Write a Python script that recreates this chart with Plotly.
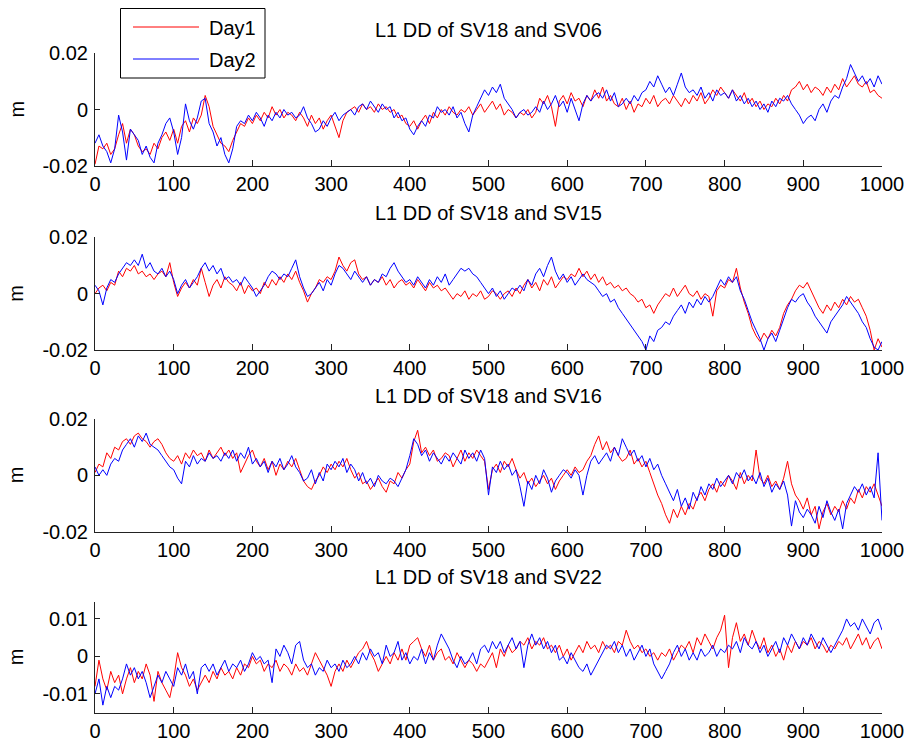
import plotly.graph_objects as go

# sample index (every 5th epoch)
T = list(range(0, 1001, 5))

# values in millimetres (converted to metres below)
SV06_DAY1 = [
    -19.5, -13, -14, -12, -16, -14, -9, -5, -12, -7, -9, -13, -15, -14, -16, -12, -14, -10, -8, -11,
    -7, -12, -6, -4, -8, -3, -5, -2, 5, 1, -6, -9, -12, -13, -15, -11, -8, -5, -6, -3,
    -5, -2, -4, -1, -3, 1, -2, 0, -3, -1, -2, -4, -1, -3, -6, -2, -5, -3, -7, -4,
    -2, -6, -10, -4, -1, 0, 1, -1, 2, 0, 1, -1, 2, 0, 1, -1, 0, -3, -2, -5,
    -6, -4, -7, -4, -2, -5, -1, -3, 0, -2, 1, -1, -2, 0, -1, 1, -2, 0, 2, -1,
    1, 3, 0, 2, -2, 0, -1, -3, -1, -2, 0, -3, -1, 4, 2, 5, 1, -6, 3, 5,
    2, 6, 3, 4, 1, 5, 3, 7, 4, 8, 3, 5, 2, 1, 4, 0, 3, -1, 2, 1,
    4, 2, 5, 1, 3, 4, 2, 5, 3, 1, 4, 2, 5, 3, 6, 2, 4, 7, 5, 8,
    6, 4, 7, 5, 3, 6, 2, 4, 1, 3, 0, 2, 1, 4, 2, 5, 3, 7, 8, 10,
    7, 9, 6, 8, 7, 5, 8, 6, 9, 7, 11, 8, 10, 12, 9, 8, 10, 6, 7, 5,
    4]
SV06_DAY2 = [
    -12, -9, -13, -15, -19, -14, -2, -8, -18, -7, -9, -11, -16, -13, -17, -19, -12, -9, -5, -3,
    -8, -16, -10, 2, -4, -7, -3, 3, 4, -5, -8, -13, -10, -16, -19, -14, -6, -4, -5, -2,
    -4, -1, -3, -6, -2, -4, -1, -3, 0, -2, -1, -3, -2, 1, -3, -5, -8, -7, -4, -6,
    -3, -1, -4, -2, -1, 0, -2, 1, 2, 0, 3, 1, -1, 2, 0, 1, -3, -1, -4, -3,
    -7, -9, -6, -4, -6, -2, -3, 1, -1, 0, -2, 1, -3, -1, -5, -8, -2, 1, 4, 7,
    5, 8, 6, 9, 4, 2, 0, -3, -1, 0, -2, -1, 1, -1, 3, 0, 2, 5, 1, 3,
    -1, 4, 0, -4, 2, 5, 3, 5, 6, 4, 7, 3, 6, 1, 2, 4, 2, 5, 3, 6,
    7, 10, 8, 12, 9, 6, 8, 5, 9, 13, 8, 6, 7, 5, 8, 4, 6, 3, 7, 5,
    6, 4, 7, 3, 5, 2, 4, 1, 3, 0, 2, -1, 3, 1, 4, 3, 5, 2, 0, -2,
    -5, -3, -2, -4, 0, 2, -1, 3, 5, 4, 8, 11, 16, 13, 10, 12, 9, 11, 8, 12,
    9]
SV15_DAY1 = [
    0, 2, 3, 1, 4, 3, 8, 6, 9, 8, 10, 7, 8, 6, 7, 5, 7, 8, 6, 11,
    4, -1, 2, 4, 2, 5, 3, 9, 4, -1, 3, 5, 2, 6, 4, 3, 1, 4, 0, 3,
    1, 2, 0, 4, 2, 5, 3, 6, 4, 7, 5, 8, 4, 1, -3, 0, 2, 5, 4, 6,
    5, 8, 13, 10, 8, 11, 12, 7, 5, 6, 3, 5, 4, 6, 3, 5, 2, 4, 5, 3,
    4, 2, 5, 3, 1, 4, 2, 3, 1, 2, 0, -2, 0, -1, 1, -2, 0, -1, 1, -2,
    -1, 1, 0, -2, 0, 1, -1, 2, 0, 3, 5, 2, 4, 1, 5, 3, 6, 2, 4, 6,
    5, 7, 6, 9, 6, 8, 5, 7, 4, 6, 3, 4, 2, 3, 1, 2, 0, -1, -3, -2,
    -5, -4, -7, -4, -2, 0, -1, 2, -1, 1, 3, 0, -1, 1, -2, 0, -1, -8, 1, 3,
    2, 5, 4, 9, 2, -3, -7, -12, -15, -17, -14, -16, -13, -15, -12, -7, -4, -2, 1, 3,
    2, 4, 1, -2, -5, -7, -4, -6, -3, -5, -2, -4, -1, -3, -2, -5, -8, -13, -20, -16,
    -19]
SV15_DAY2 = [
    3, 1, -4, 2, 5, 4, 7, 9, 11, 10, 12, 10, 14, 9, 11, 8, 7, 9, 6, 8,
    5, 0, 3, 5, 2, 4, 6, 9, 11, 8, 10, 7, 9, 5, 6, 4, 5, 3, 6, 4,
    2, -1, 1, 3, 6, 8, 7, 5, 7, 6, 9, 12, 6, 2, -1, 0, 2, 4, 1, 5,
    3, 7, 10, 9, 7, 5, 8, 6, 4, 6, 3, 5, 4, 7, 6, 9, 11, 8, 6, 4,
    5, 3, 6, 4, 2, 5, 3, 6, 4, 7, 3, 5, 7, 9, 8, 9, 7, 6, 4, 2,
    0, 2, -1, 1, -2, 0, 2, 1, 3, 1, 5, 3, 7, 9, 6, 10, 13, 8, 5, 7,
    4, 6, 3, 5, 7, 5, 4, 3, 1, -1, 0, -3, -2, -5, -7, -9, -11, -13, -15, -17,
    -20, -15, -17, -13, -12, -10, -11, -8, -6, -4, -7, -3, -5, -2, -4, -1, -3, -1, 2, 5,
    3, 6, 4, 6, 1, -2, -6, -10, -13, -16, -20, -16, -14, -17, -13, -9, -5, -2, -3, -1,
    0, -3, -5, -8, -10, -12, -14, -10, -8, -6, -4, -1, -3, -5, -7, -10, -12, -16, -19, -20,
    -17]
SV16_DAY1 = [
    1, 4, 3, 8, 6, 10, 9, 12, 13, 11, 14, 15, 13, 12, 10, 12, 13, 11, 8, 6,
    5, 7, 4, 8, 6, 9, 7, 8, 5, 9, 6, 8, 10, 7, 9, 6, 8, 1, 4, 7,
    9, 5, 3, 6, 2, 5, 0, 4, 2, 5, 3, 6, 2, -2, -4, -5, -2, 0, 3, 1,
    4, 2, 5, 3, 6, 2, -1, 1, -3, -2, -5, -3, -1, -4, -6, -2, -3, 1, -1, 2,
    4, 12, 16, 8, 10, 7, 9, 5, 6, 8, 7, 3, 6, 9, 5, 8, 6, 9, 7, 5,
    -5, 2, 4, 1, 5, 3, 6, 2, -1, 1, -3, -1, -4, -2, 0, -3, -1, -5, -2, 0,
    2, 0, 3, 1, 2, 5, 7, 11, 14, 9, 12, 8, 10, 7, 5, 6, 9, 4, 6, 3,
    5, 1, -3, -7, -10, -14, -17, -12, -15, -11, -14, -10, -12, -8, -6, -9, -5, -3, -6, -2,
    -4, 0, -2, -5, 1, -3, 0, -2, 9, -1, -3, 0, -4, -2, -5, -1, 5, -3, -7, -9,
    -12, -8, -14, -11, -19, -13, -10, -14, -11, -13, -9, -12, -8, -10, -5, -8, -4, -6, -3, -7,
    -11]
SV16_DAY2 = [
    3, 0, 2, 0, 4, 6, 5, 9, 11, 13, 10, 14, 12, 15, 11, 10, 9, 7, 5, 3,
    2, -1, -3, 5, 3, 7, 4, 6, 5, 8, 6, 7, 5, 8, 6, 9, 5, 8, 6, 10,
    4, 6, 3, 5, 1, 5, 3, 6, 2, 4, 7, 3, 1, -2, -1, 2, -3, 1, -2, 4,
    2, 5, 3, 6, 1, 4, 2, -2, 1, -3, -1, -4, 0, -2, -3, -1, -2, -4, -1, 2,
    7, 13, 11, 7, 9, 5, 8, 6, 4, 7, 5, 8, 6, 4, 9, 6, 8, 5, 9, 6,
    -7, 3, 1, 5, 2, 4, 0, 2, -4, -11, -2, -5, 0, -3, 2, -1, -6, -2, 0, 2,
    1, -1, 2, 0, -7, 0, 5, 7, 4, 6, 8, 5, 10, 7, 13, 10, 7, 9, 5, 7,
    3, 6, 2, 4, 0, -3, -6, -9, -5, -11, -8, -12, -6, -9, -4, -7, -3, -5, -1, -4,
    -2, 0, -3, 1, -1, 2, -2, 0, -3, 1, -4, -1, -6, -3, -5, -2, -7, -18, -9, -13,
    -15, -12, -14, -17, -11, -15, -9, -13, -16, -12, -19, -10, -7, -4, -6, -3, -7, -4, -8, 8,
    -16]
SV22_DAY1 = [
    -8, -1, -6, -9, -4, -7, -5, -10, -6, -3, -7, -4, -6, -2, -5, -12, -4, -7, -9, -11,
    -6, 1, -3, -5, -8, -6, -9, -7, -5, -7, -4, -6, -3, -5, -4, -6, -3, -5, -2, -3,
    0, -2, -1, -4, -2, -3, -1, -4, -2, -3, -5, -2, -4, -3, -5, -2, 1, -1, -3, -5,
    -8, -4, -2, -4, -1, -3, -1, 1, 2, 4, 1, -1, -4, -2, 0, -2, 1, -1, 2, -1,
    3, 4, 5, 2, 0, 3, -1, 1, 2, -1, 0, -2, 1, -1, -3, -1, -2, -4, -2, -3,
    -1, 1, -3, 2, 0, 3, 1, 2, 4, 3, 5, 2, 4, 3, 5, 2, 3, 1, 3, 0,
    2, -1, 1, 3, 1, 4, 2, 3, 1, 4, 2, 3, 1, 4, 3, 7, 4, 2, 3, 1,
    2, 0, 1, -1, 1, 0, 2, -1, 1, 3, 2, 4, 1, 5, 3, 6, 4, 2, 5, 7,
    11, -3, 5, 9, 4, 6, 3, 7, 4, 2, 5, 1, 3, 0, 2, -1, 3, 1, 4, 2,
    4, 3, 5, 2, 4, 3, 1, 3, 2, 4, 3, 5, 2, 4, 6, 3, 5, 2, 4, 5,
    2]
SV22_DAY2 = [
    -10, -6, -13, -8, -11, -8, -9, -6, -2, -5, -3, -6, -4, -7, -11, -8, -5, -7, -4, -6,
    -8, -3, -5, -2, -6, -4, -10, -3, -2, -4, -2, -5, -3, -1, -4, -2, -3, -1, -4, -2,
    1, -1, 0, -2, -1, -7, 2, 0, 3, 1, -2, 3, 4, -1, -3, -2, -5, -3, -4, -1,
    -3, -2, -4, -1, -3, -2, 0, -2, 1, -1, 2, 0, 1, -2, 3, 0, 1, 4, -1, 1,
    -2, 0, -1, 2, -2, 1, -1, 3, 6, 4, 2, -1, -3, 0, -2, -1, 1, -2, 2, 3,
    1, 4, 2, 4, 1, 3, 5, 2, 4, -3, 3, 6, 3, 5, 2, 4, 1, 3, -1, 0,
    -2, 1, -1, -3, -4, -2, -5, -3, -1, 1, 3, 2, 4, 1, 3, 0, 2, -1, 1, 3,
    0, 2, -2, -4, -6, -4, -2, 1, 3, 0, 2, -1, 1, -1, 2, 0, 1, 3, 0, 2,
    1, 3, 2, 4, 1, 5, 3, 2, 4, 1, 3, 0, 2, 4, 1, 5, 3, 6, 4, 2,
    5, 3, 6, 4, 2, 5, 3, 1, 3, 5, 7, 10, 8, 9, 7, 10, 8, 6, 9, 10,
    7]

PANELS = [
    ("L1 DD of SV18 and SV06", SV06_DAY1, SV06_DAY2),
    ("L1 DD of SV18 and SV15", SV15_DAY1, SV15_DAY2),
    ("L1 DD of SV18 and SV16", SV16_DAY1, SV16_DAY2),
    ("L1 DD of SV18 and SV22", SV22_DAY1, SV22_DAY2),
]
SERIES_NAMES = ["Day1", "Day2"]
SERIES_COLORS = ["#FF0000", "#0000FF"]
X_TICKS = [0, 100, 200, 300, 400, 500, 600, 700, 800, 900, 1000]
Y_TICKS_BIG = [-0.02, 0, 0.02]
Y_TICKTEXT_BIG = ["-0.02", "0", "0.02"]
Y_TICKS_SMALL = [-0.01, 0, 0.01]
Y_TICKTEXT_SMALL = ["-0.01", "0", "0.01"]
Y_RANGES = [[-0.02, 0.02], [-0.02, 0.02], [-0.02, 0.02], [-0.0151, 0.0146]]

W, H = 911, 742
FONT = "Liberation Sans, Arial, sans-serif"
FS = 20

def px(x):
    return x / W

def py(y):
    return 1 - y / H

# pixel boxes of each axes (top, bottom)
BOXES = [(53.3, 165.7), (237.3, 350.0), (419.0, 531.7), (601.7, 713.0)]
TITLE_Y = [29.5, 212.5, 396.0, 576.5]
X0, X1 = 95.0, 882.0

fig = go.Figure()
annotations = []
for i, (title, d1, d2) in enumerate(PANELS):
    n = i + 1
    xa = "x" if n == 1 else f"x{n}"
    ya = "y" if n == 1 else f"y{n}"
    for vals, name, col in ((d1, SERIES_NAMES[0], SERIES_COLORS[0]), (d2, SERIES_NAMES[1], SERIES_COLORS[1])):
        fig.add_trace(go.Scatter(
            x=T, y=[v / 1000.0 for v in vals], mode="lines", name=name,
            line=dict(color=col, width=1), xaxis=xa, yaxis=ya, showlegend=False,
        ))
    top, bot = BOXES[i]
    small = (i == 3)
    axx = dict(domain=[px(X0), px(X1)], range=[0, 1000], tickvals=X_TICKS,
               ticks="inside", ticklen=6, tickcolor="#222", showline=True, linecolor="#222",
               linewidth=1, showgrid=False, zeroline=False, anchor=ya, automargin=False,
               tickfont=dict(family=FONT, size=FS, color="black"), ticklabelstandoff=0)
    axy = dict(domain=[py(bot), py(top)], range=Y_RANGES[i],
               tickvals=Y_TICKS_SMALL if small else Y_TICKS_BIG,
               ticktext=Y_TICKTEXT_SMALL if small else Y_TICKTEXT_BIG,
               ticks="inside", ticklen=5, tickcolor="#222", showline=True, linecolor="#222",
               linewidth=1, showgrid=False, zeroline=False, anchor=xa, automargin=False,
               tickfont=dict(family=FONT, size=FS, color="black"), ticklabelstandoff=2)
    fig.update_layout(**{("xaxis" if n == 1 else f"xaxis{n}"): axx,
                         ("yaxis" if n == 1 else f"yaxis{n}"): axy})
    annotations.append(dict(text=title, x=px((X0 + X1) / 2), y=py(TITLE_Y[i]), xref="paper", yref="paper",
                            xanchor="center", yanchor="middle", showarrow=False,
                            font=dict(family=FONT, size=FS, color="black")))
    annotations.append(dict(text="m", x=px(16), y=py((top + bot) / 2), xref="paper", yref="paper",
                            xanchor="center", yanchor="middle", showarrow=False, textangle=-90,
                            font=dict(family=FONT, size=FS, color="black")))

# legend drawn as box + sample lines + labels
shapes = [dict(type="rect", xref="paper", yref="paper", x0=px(120.5), x1=px(265), y0=py(8.5), y1=py(78),
               line=dict(color="black", width=1), fillcolor="white", layer="above")]
for k, (name, col, ly) in enumerate(zip(SERIES_NAMES, SERIES_COLORS, [27, 59])):
    shapes.append(dict(type="line", xref="paper", yref="paper", x0=px(133), x1=px(199), y0=py(ly), y1=py(ly),
                       line=dict(color=col, width=1), layer="above"))
    annotations.append(dict(text=name, x=px(207), y=py(ly + 1), xref="paper", yref="paper",
                            xanchor="left", yanchor="middle", showarrow=False,
                            font=dict(family=FONT, size=FS, color="black")))

fig.update_layout(width=W, height=H, autosize=False, margin=dict(l=0, r=0, t=0, b=0, pad=0),
                  paper_bgcolor="white", plot_bgcolor="white", showlegend=False,
                  annotations=annotations, shapes=shapes)
fig.write_html("out.html", config={"displayModeBar": False},
               post_script="document.body.style.margin='0';document.body.style.overflow='hidden';"
                           "document.documentElement.style.overflow='hidden';")
